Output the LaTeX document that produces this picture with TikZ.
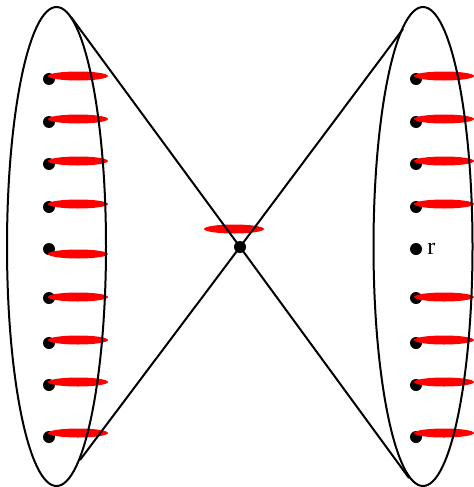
\documentclass[tikz,border=0pt]{standalone}
\usepackage{fontspec}
\setmainfont{Liberation Serif}
\usetikzlibrary{shapes.geometric}

\begin{document}
\begin{tikzpicture}[
      x=0.5pt, y=-0.5pt,
      dot/.style={circle, fill=black, inner sep=0pt, minimum size=6pt},
      redbar/.style={ellipse, fill=red, inner sep=0pt, minimum width=30pt, minimum height=4.5pt},
      oval/.style={ellipse, draw, line width=1pt, inner sep=0pt, minimum width=49.5pt, minimum height=239.5pt}
    ]
      \useasboundingbox (0,0) rectangle (473,487);
      \node[dot] (a1) at (49,79) {};
      \node[dot] (a2) at (49,122) {};
      \node[dot] (a3) at (49,164) {};
      \node[dot] (a4) at (49,207) {};
      \node[dot] (a5) at (49,249) {};
      \node[dot] (a6) at (49,298) {};
      \node[dot] (a7) at (49,343) {};
      \node[dot] (a8) at (49,385) {};
      \node[dot] (a9) at (49,437) {};
      \node[dot] (b1) at (416,79) {};
      \node[dot] (b2) at (416,122) {};
      \node[dot] (b3) at (416,164) {};
      \node[dot] (b4) at (416,207) {};
      \node[dot] (r) at (416,249) {};
      \node[dot] (b6) at (416,298) {};
      \node[dot] (b7) at (416,343) {};
      \node[dot] (b8) at (416,385) {};
      \node[dot] (b9) at (416,437) {};
      \node[dot] (c) at (240,247) {};
      \node[anchor=west, inner sep=0pt, font=\fontsize{12}{14}\selectfont] (rlab) at (427,249) {r};
      % red bars
      \node[redbar] (ra1) at (78,76) {};
      \node[redbar] (ra2) at (78,119) {};
      \node[redbar] (ra3) at (78,161) {};
      \node[redbar] (ra4) at (78,204) {};
      \node[redbar] (ra5) at (78,254) {};
      \node[redbar] (ra6) at (78,297) {};
      \node[redbar] (ra7) at (78,340) {};
      \node[redbar] (ra8) at (78,382) {};
      \node[redbar] (ra9) at (78,433) {};
      \node[redbar] (rb1) at (444,76) {};
      \node[redbar] (rb2) at (444,119) {};
      \node[redbar] (rb3) at (444,161) {};
      \node[redbar] (rb4) at (444,204) {};
      \node[redbar] (rb6) at (444,297) {};
      \node[redbar] (rb7) at (444,340) {};
      \node[redbar] (rb8) at (444,382) {};
      \node[redbar] (rb9) at (444,433) {};
      \node[redbar] (rc) at (234,229) {};
      % the two sides
      \node[oval] (L) at (56.5,246.5) {};
      \node[oval] (R) at (423,246.5) {};
      \coordinate (lt) at (71,17);
      \coordinate (lb) at (80,460);
      \coordinate (rt) at (403,29);
      \coordinate (rb) at (409,478);
      \draw[line width=1pt] (lt) -- (c.center) -- (rb);
      \draw[line width=1pt] (lb) -- (c.center) -- (rt);
    \end{tikzpicture}
\end{document}
